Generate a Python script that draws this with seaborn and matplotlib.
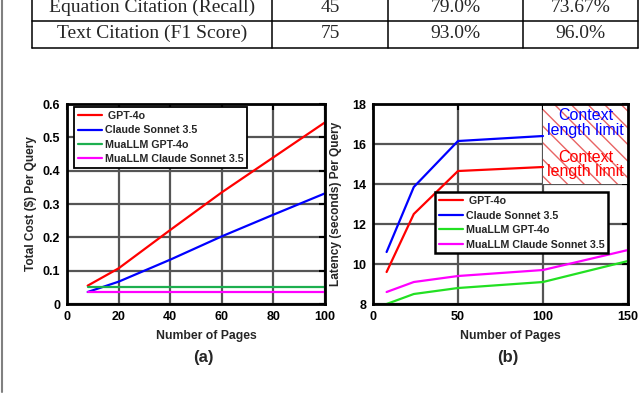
import matplotlib
matplotlib.use("Agg")
import matplotlib.pyplot as plt
import seaborn as sns
import pandas as pd

# table rows (only the last two rows are visible)
row_names = ["Equation Citation (Recall)", "Text Citation (F1 Score)"]
row_count = ["45", "75"]
row_col2 = ["79.0%", "93.0%"]
row_col3 = ["73.67%", "96.0%"]

series = ["GPT-4o", "Claude Sonnet 3.5", "MuaLLM GPT-4o", "MuaLLM Claude Sonnet 3.5"]

# (a) cost per query
pages_a = [8, 20, 40, 60, 80, 100]
cost_gpt4o = [0.055, 0.107, 0.222, 0.335, 0.44, 0.545]
cost_claude = [0.036, 0.067, 0.133, 0.203, 0.268, 0.332]
cost_mua_gpt4o = [0.05, 0.05, 0.05, 0.05, 0.05, 0.05]
cost_mua_claude = [0.035, 0.035, 0.035, 0.035, 0.035, 0.035]

# (b) latency per query
pages_b = [8, 24, 50, 100, 150]
lat_gpt4o = [9.6, 12.5, 14.65, 14.85]
lat_claude = [10.6, 13.85, 16.15, 16.4]
lat_mua_gpt4o = [8.0, 8.5, 8.8, 9.1, 10.15]
lat_mua_claude = [8.6, 9.1, 9.4, 9.7, 10.7]

context_limit = 100  # pages where GPT-4o / Claude stop

def long_df(xs, ys_list):
    rows = []
    for name, ys in zip(series, ys_list):
        for x, y in zip(xs, ys):
            rows.append({"pages": x, "value": y, "model": name})
    return pd.DataFrame(rows)

df_a = long_df(pages_a, [cost_gpt4o, cost_claude, cost_mua_gpt4o, cost_mua_claude])
df_b = long_df(pages_b, [lat_gpt4o, lat_claude, lat_mua_gpt4o, lat_mua_claude])

sns.set_theme(style="white")
plt.rcParams["font.family"] = ["Liberation Sans", "DejaVu Sans"]
plt.rcParams["font.weight"] = "bold"
plt.rcParams["hatch.linewidth"] = 1.0

fig = plt.figure(figsize=(6.4, 3.94), dpi=100)
ax1 = fig.add_axes([0.1047, 0.2284, 0.4031, 0.5076])
ax2 = fig.add_axes([0.5828, 0.2284, 0.3984, 0.5076])

pal_a = ["#ff0000", "#0000ff", "#1daf4f", "#ff00ff"]
pal_b = ["#ff0000", "#0000ff", "#22e022", "#ff00ff"]

sns.lineplot(data=df_a, x="pages", y="value", hue="model", hue_order=series,
             palette=pal_a, estimator=None, sort=False, lw=1.6, ax=ax1)
sns.lineplot(data=df_b, x="pages", y="value", hue="model", hue_order=series,
             palette=pal_b, estimator=None, sort=False, lw=1.6, ax=ax2)

ax1.set_xlim(0, 100)
ax1.set_ylim(0, 0.6)
ax1.set_xticks([0, 20, 40, 60, 80, 100])
ax1.set_yticks([0, 0.1, 0.2, 0.3, 0.4, 0.5, 0.6])
ax1.set_yticklabels(["0", "0.1", "0.2", "0.3", "0.4", "0.5", "0.6"])
ax2.set_xlim(0, 150)
ax2.set_ylim(8, 18)
ax2.set_xticks([0, 50, 100, 150])
ax2.set_yticks([8, 10, 12, 14, 16, 18])

# hatched region beyond the context length limit
ax2.fill_between([context_limit, 150], 14, 18, facecolor="white",
                 edgecolor="#e86464", hatch="\\\\", linewidth=0, zorder=1.5)
ax2.text(125, 17.05, "Context\nlength limit", color="#0000ff", fontsize=11.5,
         fontweight="normal", ha="center", va="center", linespacing=0.95, zorder=3)
ax2.text(125, 14.98, "Context\nlength limit", color="#ff0000", fontsize=11.5,
         fontweight="normal", ha="center", va="center", linespacing=0.95, zorder=3)

for ax, ylab, tag in [(ax1, "Total Cost ($) Per Query", "(a)"),
                      (ax2, "Latency (seconds) Per Query", "(b)")]:
    ax.set_axisbelow(True)
    ax.grid(True, color="#555555", lw=1.6)
    for s in ax.spines.values():
        s.set_color("black")
        s.set_linewidth(2)
        s.set_visible(True)
    ax.tick_params(direction="in", length=4, width=1.5, top=True, right=True,
                   labelsize=9, pad=5, colors="black")
    for lab in ax.get_xticklabels() + ax.get_yticklabels():
        lab.set_fontweight("bold")
    ax.set_xlabel("Number of Pages", fontsize=8.8, fontweight="bold")
    ax.xaxis.set_label_coords(0.54, -0.128)
    ax.set_ylabel(ylab, fontsize=8.6, fontweight="bold")
    ax.text(0.53, -0.265, tag, transform=ax.transAxes, fontsize=12,
            fontweight="bold", ha="center", va="center")

ax1.yaxis.set_label_coords(-0.116, 0.5)
ax2.yaxis.set_label_coords(-0.122, 0.5)

handles, labels = ax1.get_legend_handles_labels()
labels = [" GPT-4o"] + labels[1:]
leg_kw = dict(loc="upper left", borderaxespad=0, fancybox=False, framealpha=1,
              edgecolor="black", prop={"size": 7.7, "weight": "bold"},
              handlelength=2.3, handletextpad=0.25, labelspacing=0.42,
              borderpad=0.35)
l1 = ax1.legend(handles, labels, bbox_to_anchor=(0.027, 0.985), **leg_kw)
l1.get_frame().set_linewidth(1.3)
handles, _ = ax2.get_legend_handles_labels()
l2 = ax2.legend(handles, labels, bbox_to_anchor=(0.243, 0.558), **leg_kw)
l2.get_frame().set_linewidth(1.8)
l2.set_zorder(4)

# table fragment at the top
H = 394.0
W = 640.0
col_x = [32, 272, 388, 523, 638]
row_y = [-6, 21, 48]
for x in col_x:
    fig.add_artist(plt.Line2D([x / W, x / W], [1 - row_y[0] / H, 1 - row_y[-1] / H],
                              color="black", lw=1.1))
for y in row_y[1:]:
    fig.add_artist(plt.Line2D([col_x[0] / W, col_x[-1] / W], [1 - y / H, 1 - y / H],
                              color="black", lw=1.1))
baselines = [12, 38]
for i in range(2):
    cells = [row_names[i], row_count[i], row_col2[i], row_col3[i]]
    for j, txt in enumerate(cells):
        cx = (col_x[j] + col_x[j + 1]) / 2 / W
        fig.text(cx, 1 - baselines[i] / H, txt, ha="center", va="baseline",
                 fontsize=14, fontweight="normal", family="Liberation Serif")

# page edge line on the left
fig.add_artist(plt.Line2D([2 / W, 2 / W], [1, 1 - 392 / H], color="#808080", lw=1.5))

fig.savefig("out.png", dpi=100)
